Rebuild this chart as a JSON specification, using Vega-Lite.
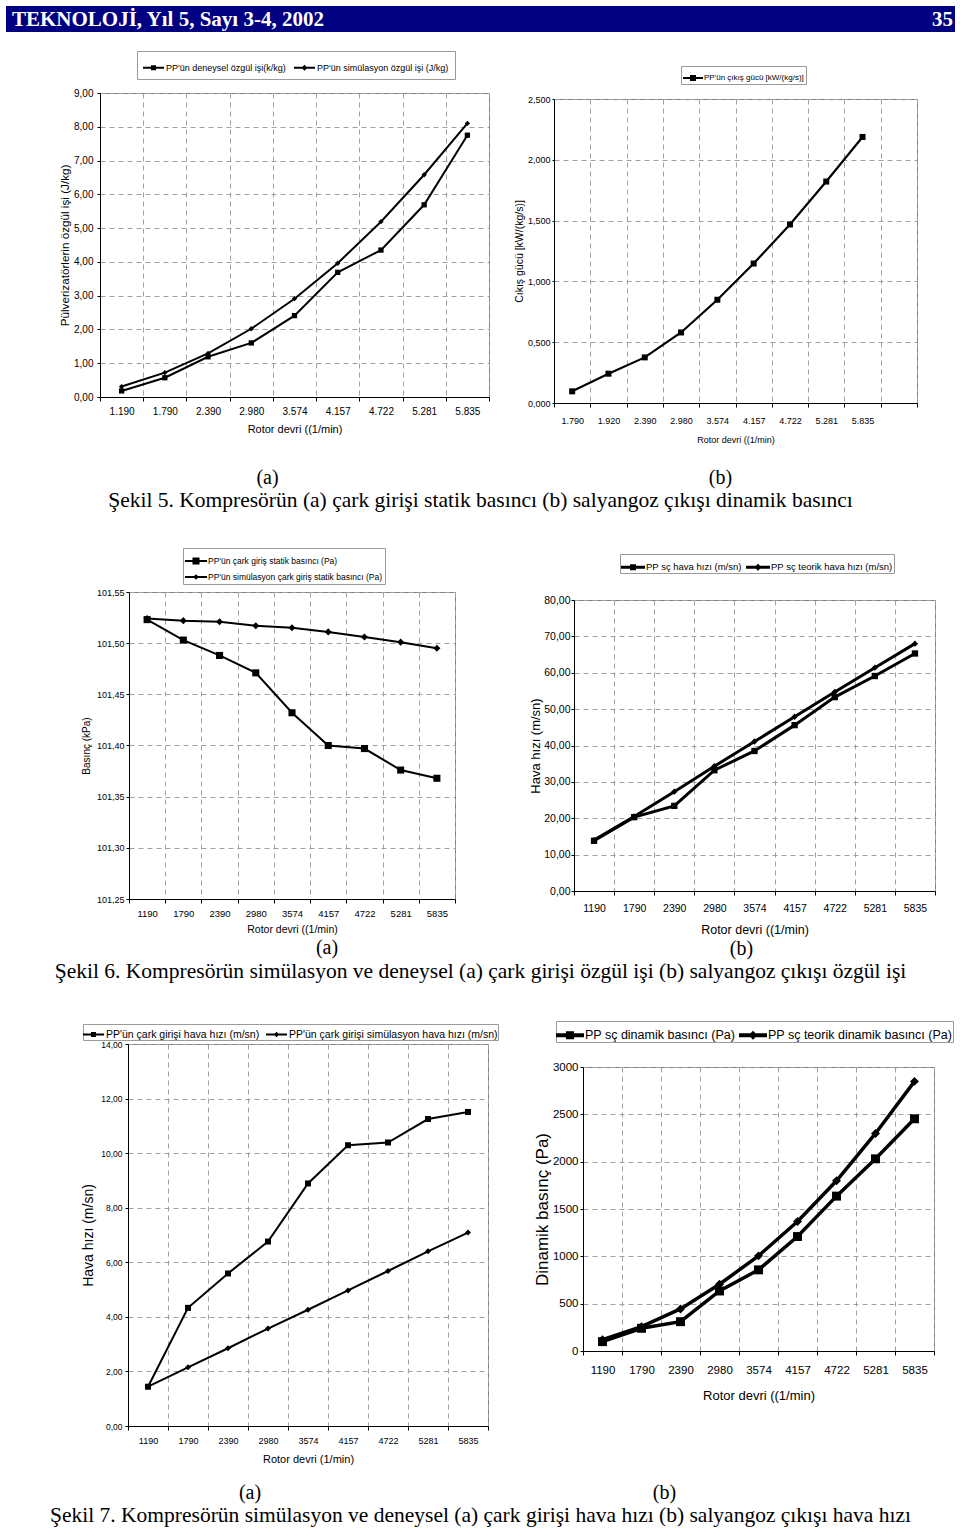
{
  "$schema": "https://vega.github.io/schema/vega-lite/v6.json",
  "padding": {"left": 6, "top": 6, "right": 0, "bottom": 0},
  "background": "white",
  "bounds": "full",
  "spacing": 0,
  "resolve": {"scale": {"shape": "independent"}, "legend": {"shape": "independent"}},
  "datasets": {
    "header": [
      {"label": "TEKNOLOJİ, Yıl 5, Sayı 3-4, 2002", "side": "left"},
      {"label": "35", "side": "right"}
    ],
    "f1a": [
      {"rpm": "1.190", "series": "PP'ün deneysel özgül işi(k/kg)", "value": 0.18},
      {"rpm": "1.790", "series": "PP'ün deneysel özgül işi(k/kg)", "value": 0.57},
      {"rpm": "2.390", "series": "PP'ün deneysel özgül işi(k/kg)", "value": 1.19},
      {"rpm": "2.980", "series": "PP'ün deneysel özgül işi(k/kg)", "value": 1.60},
      {"rpm": "3.574", "series": "PP'ün deneysel özgül işi(k/kg)", "value": 2.41},
      {"rpm": "4.157", "series": "PP'ün deneysel özgül işi(k/kg)", "value": 3.69},
      {"rpm": "4.722", "series": "PP'ün deneysel özgül işi(k/kg)", "value": 4.35},
      {"rpm": "5.281", "series": "PP'ün deneysel özgül işi(k/kg)", "value": 5.69},
      {"rpm": "5.835", "series": "PP'ün deneysel özgül işi(k/kg)", "value": 7.75},
      {"rpm": "1.190", "series": "PP'ün simülasyon özgül işi (J/kg)", "value": 0.31},
      {"rpm": "1.790", "series": "PP'ün simülasyon özgül işi (J/kg)", "value": 0.72},
      {"rpm": "2.390", "series": "PP'ün simülasyon özgül işi (J/kg)", "value": 1.29},
      {"rpm": "2.980", "series": "PP'ün simülasyon özgül işi (J/kg)", "value": 2.02},
      {"rpm": "3.574", "series": "PP'ün simülasyon özgül işi (J/kg)", "value": 2.91},
      {"rpm": "4.157", "series": "PP'ün simülasyon özgül işi (J/kg)", "value": 3.96},
      {"rpm": "4.722", "series": "PP'ün simülasyon özgül işi (J/kg)", "value": 5.19},
      {"rpm": "5.281", "series": "PP'ün simülasyon özgül işi (J/kg)", "value": 6.58},
      {"rpm": "5.835", "series": "PP'ün simülasyon özgül işi (J/kg)", "value": 8.10}
    ],
    "f1b": [
      {"rpm": "1.790", "series": "PP'ün çıkış gücü [kW/(kg/s)]", "value": 0.096},
      {"rpm": "1.920", "series": "PP'ün çıkış gücü [kW/(kg/s)]", "value": 0.241},
      {"rpm": "2.390", "series": "PP'ün çıkış gücü [kW/(kg/s)]", "value": 0.375},
      {"rpm": "2.980", "series": "PP'ün çıkış gücü [kW/(kg/s)]", "value": 0.580},
      {"rpm": "3.574", "series": "PP'ün çıkış gücü [kW/(kg/s)]", "value": 0.849},
      {"rpm": "4.157", "series": "PP'ün çıkış gücü [kW/(kg/s)]", "value": 1.147},
      {"rpm": "4.722", "series": "PP'ün çıkış gücü [kW/(kg/s)]", "value": 1.468},
      {"rpm": "5.281", "series": "PP'ün çıkış gücü [kW/(kg/s)]", "value": 1.821},
      {"rpm": "5.835", "series": "PP'ün çıkış gücü [kW/(kg/s)]", "value": 2.188}
    ],
    "f2a": [
      {"rpm": "1190", "series": "PP'ün çark giriş statik basıncı (Pa)", "value": 101.523},
      {"rpm": "1790", "series": "PP'ün çark giriş statik basıncı (Pa)", "value": 101.503},
      {"rpm": "2390", "series": "PP'ün çark giriş statik basıncı (Pa)", "value": 101.488},
      {"rpm": "2980", "series": "PP'ün çark giriş statik basıncı (Pa)", "value": 101.471},
      {"rpm": "3574", "series": "PP'ün çark giriş statik basıncı (Pa)", "value": 101.432},
      {"rpm": "4157", "series": "PP'ün çark giriş statik basıncı (Pa)", "value": 101.400},
      {"rpm": "4722", "series": "PP'ün çark giriş statik basıncı (Pa)", "value": 101.397},
      {"rpm": "5281", "series": "PP'ün çark giriş statik basıncı (Pa)", "value": 101.376},
      {"rpm": "5835", "series": "PP'ün çark giriş statik basıncı (Pa)", "value": 101.368},
      {"rpm": "1190", "series": "PP'ün simülasyon çark giriş statik basıncı (Pa)", "value": 101.524},
      {"rpm": "1790", "series": "PP'ün simülasyon çark giriş statik basıncı (Pa)", "value": 101.522},
      {"rpm": "2390", "series": "PP'ün simülasyon çark giriş statik basıncı (Pa)", "value": 101.521},
      {"rpm": "2980", "series": "PP'ün simülasyon çark giriş statik basıncı (Pa)", "value": 101.517},
      {"rpm": "3574", "series": "PP'ün simülasyon çark giriş statik basıncı (Pa)", "value": 101.515},
      {"rpm": "4157", "series": "PP'ün simülasyon çark giriş statik basıncı (Pa)", "value": 101.511},
      {"rpm": "4722", "series": "PP'ün simülasyon çark giriş statik basıncı (Pa)", "value": 101.506},
      {"rpm": "5281", "series": "PP'ün simülasyon çark giriş statik basıncı (Pa)", "value": 101.501},
      {"rpm": "5835", "series": "PP'ün simülasyon çark giriş statik basıncı (Pa)", "value": 101.495}
    ],
    "f2b": [
      {"rpm": "1190", "series": "PP sç hava hızı (m/sn)", "value": 13.8},
      {"rpm": "1790", "series": "PP sç hava hızı (m/sn)", "value": 20.3},
      {"rpm": "2390", "series": "PP sç hava hızı (m/sn)", "value": 23.4},
      {"rpm": "2980", "series": "PP sç hava hızı (m/sn)", "value": 33.2},
      {"rpm": "3574", "series": "PP sç hava hızı (m/sn)", "value": 38.5},
      {"rpm": "4157", "series": "PP sç hava hızı (m/sn)", "value": 45.6},
      {"rpm": "4722", "series": "PP sç hava hızı (m/sn)", "value": 53.3},
      {"rpm": "5281", "series": "PP sç hava hızı (m/sn)", "value": 59.1},
      {"rpm": "5835", "series": "PP sç hava hızı (m/sn)", "value": 65.3},
      {"rpm": "1190", "series": "PP sç teorik hava hızı (m/sn)", "value": 14.0},
      {"rpm": "1790", "series": "PP sç teorik hava hızı (m/sn)", "value": 20.5},
      {"rpm": "2390", "series": "PP sç teorik hava hızı (m/sn)", "value": 27.3},
      {"rpm": "2980", "series": "PP sç teorik hava hızı (m/sn)", "value": 34.3},
      {"rpm": "3574", "series": "PP sç teorik hava hızı (m/sn)", "value": 41.1},
      {"rpm": "4157", "series": "PP sç teorik hava hızı (m/sn)", "value": 47.9},
      {"rpm": "4722", "series": "PP sç teorik hava hızı (m/sn)", "value": 54.7},
      {"rpm": "5281", "series": "PP sç teorik hava hızı (m/sn)", "value": 61.4},
      {"rpm": "5835", "series": "PP sç teorik hava hızı (m/sn)", "value": 68.0}
    ],
    "f3a": [
      {"rpm": "1190", "series": "PP'ün çark girişi hava hızı (m/sn)", "value": 1.44},
      {"rpm": "1790", "series": "PP'ün çark girişi hava hızı (m/sn)", "value": 4.33},
      {"rpm": "2390", "series": "PP'ün çark girişi hava hızı (m/sn)", "value": 5.59},
      {"rpm": "2980", "series": "PP'ün çark girişi hava hızı (m/sn)", "value": 6.76},
      {"rpm": "3574", "series": "PP'ün çark girişi hava hızı (m/sn)", "value": 8.89},
      {"rpm": "4157", "series": "PP'ün çark girişi hava hızı (m/sn)", "value": 10.29},
      {"rpm": "4722", "series": "PP'ün çark girişi hava hızı (m/sn)", "value": 10.39},
      {"rpm": "5281", "series": "PP'ün çark girişi hava hızı (m/sn)", "value": 11.25},
      {"rpm": "5835", "series": "PP'ün çark girişi hava hızı (m/sn)", "value": 11.51},
      {"rpm": "1190", "series": "PP'ün çark girişi simülasyon hava hızı (m/sn)", "value": 1.44},
      {"rpm": "1790", "series": "PP'ün çark girişi simülasyon hava hızı (m/sn)", "value": 2.15},
      {"rpm": "2390", "series": "PP'ün çark girişi simülasyon hava hızı (m/sn)", "value": 2.85},
      {"rpm": "2980", "series": "PP'ün çark girişi simülasyon hava hızı (m/sn)", "value": 3.57},
      {"rpm": "3574", "series": "PP'ün çark girişi simülasyon hava hızı (m/sn)", "value": 4.26},
      {"rpm": "4157", "series": "PP'ün çark girişi simülasyon hava hızı (m/sn)", "value": 4.97},
      {"rpm": "4722", "series": "PP'ün çark girişi simülasyon hava hızı (m/sn)", "value": 5.68},
      {"rpm": "5281", "series": "PP'ün çark girişi simülasyon hava hızı (m/sn)", "value": 6.40},
      {"rpm": "5835", "series": "PP'ün çark girişi simülasyon hava hızı (m/sn)", "value": 7.09}
    ],
    "f3b": [
      {"rpm": "1190", "series": "PP sç dinamik basıncı (Pa)", "value": 99},
      {"rpm": "1790", "series": "PP sç dinamik basıncı (Pa)", "value": 240},
      {"rpm": "2390", "series": "PP sç dinamik basıncı (Pa)", "value": 310},
      {"rpm": "2980", "series": "PP sç dinamik basıncı (Pa)", "value": 634},
      {"rpm": "3574", "series": "PP sç dinamik basıncı (Pa)", "value": 857},
      {"rpm": "4157", "series": "PP sç dinamik basıncı (Pa)", "value": 1209},
      {"rpm": "4722", "series": "PP sç dinamik basıncı (Pa)", "value": 1636},
      {"rpm": "5281", "series": "PP sç dinamik basıncı (Pa)", "value": 2030},
      {"rpm": "5835", "series": "PP sç dinamik basıncı (Pa)", "value": 2453},
      {"rpm": "1190", "series": "PP sç teorik dinamik basıncı (Pa)", "value": 120},
      {"rpm": "1790", "series": "PP sç teorik dinamik basıncı (Pa)", "value": 257},
      {"rpm": "2390", "series": "PP sç teorik dinamik basıncı (Pa)", "value": 444},
      {"rpm": "2980", "series": "PP sç teorik dinamik basıncı (Pa)", "value": 705},
      {"rpm": "3574", "series": "PP sç teorik dinamik basıncı (Pa)", "value": 1005},
      {"rpm": "4157", "series": "PP sç teorik dinamik basıncı (Pa)", "value": 1368},
      {"rpm": "4722", "series": "PP sç teorik dinamik basıncı (Pa)", "value": 1798},
      {"rpm": "5281", "series": "PP sç teorik dinamik basıncı (Pa)", "value": 2298},
      {"rpm": "5835", "series": "PP sç teorik dinamik basıncı (Pa)", "value": 2848}
    ],
    "cap5": [{"caption": "Şekil 5. Kompresörün (a) çark girişi statik basıncı (b) salyangoz çıkışı dinamik basıncı"}],
    "cap6": [{"caption": "Şekil 6. Kompresörün simülasyon ve deneysel (a) çark girişi özgül işi (b) salyangoz çıkışı özgül işi"}],
    "cap7": [{"caption": "Şekil 7. Kompresörün simülasyon ve deneysel (a) çark girişi hava hızı (b) salyangoz çıkışı hava hızı"}]
  },
  "vconcat": [
    {
      "width": 949, "height": 26,
      "view": {"fill": "#000080", "stroke": null},
      "data": {"name": "header"},
      "encoding": {
        "x": {"field": "side", "type": "nominal", "scale": {"type": "point", "domain": ["left", "right"], "padding": 0}, "axis": null},
        "text": {"field": "label", "type": "nominal"}
      },
      "layer": [
        {"transform": [{"filter": "datum.side === 'left'"}], "mark": {"type": "text", "align": "left", "dx": 6, "dy": 1, "color": "white", "font": "Liberation Serif", "fontSize": 21, "fontWeight": "bold"}},
        {"transform": [{"filter": "datum.side === 'right'"}], "mark": {"type": "text", "align": "right", "dx": -2, "dy": 1, "color": "white", "font": "Liberation Serif", "fontSize": 21, "fontWeight": "bold"}}
      ]
    },
    {
      "hconcat": [
        {"width": 94, "height": 458, "data": {"values": []}, "mark": {"type": "point", "opacity": 0}, "view": {"stroke": null}},
        {
          "vconcat": [
            {"width": 1, "height": 61, "data": {"values": []}, "mark": {"type": "point", "opacity": 0}, "view": {"stroke": null}},
            {
              "width": 389, "height": 304,
              "title": {"text": "(a)", "orient": "bottom", "anchor": "middle", "dx": -27, "offset": 34},
              "data": {"name": "f1a"},
              "encoding": {
                "x": {"field": "rpm", "type": "nominal", "bandPosition": 0.5,
                  "scale": {"type": "band", "domain": ["1.190", "1.790", "2.390", "2.980", "3.574", "4.157", "4.722", "5.281", "5.835"], "paddingInner": 0, "paddingOuter": 0},
                  "axis": {"title": "Rotor devri ((1/min)", "tickBand": "extent", "labelAngle": 0, "labelFontSize": 10, "titleFontSize": 11, "tickSize": 4, "labelPadding": 5, "titlePadding": 7, "grid": true}},
                "y": {"field": "value", "type": "quantitative",
                  "scale": {"domain": [0, 9], "nice": false},
                  "axis": {"title": "Pülverizatörlerin özgül işi (J/kg)", "values": [0, 1, 2, 3, 4, 5, 6, 7, 8, 9], "format": ".2f", "labelFontSize": 10, "titleFontSize": 11.7, "tickSize": 3, "labelPadding": 4, "titlePadding": 3, "grid": true}}
              },
              "layer": [
                {"mark": {"type": "line", "color": "black", "strokeWidth": 2}, "encoding": {"detail": {"field": "series", "type": "nominal"}}},
                {"mark": {"type": "point", "filled": true, "color": "black", "size": 28, "opacity": 1},
                  "encoding": {"shape": {"field": "series", "type": "nominal", "scale": {"domain": ["PP'ün deneysel özgül işi(k/kg)", "PP'ün simülasyon özgül işi (J/kg)"], "range": ["square", "diamond"]}, "legend": null}}},
                {"mark": {"type": "point", "filled": true, "color": "black", "opacity": 0},
                  "encoding": {"shape": {"field": "series", "type": "nominal",
                    "scale": {"domain": ["PP'ün deneysel özgül işi(k/kg)", "PP'ün simülasyon özgül işi (J/kg)"], "range": ["M-1,-0.1H1V0.1H-1Z M-0.24,-0.24H0.24V0.24H-0.24Z", "M-1,-0.1H1V0.1H-1Z M0,-0.28L0.28,0L0,0.28L-0.28,0Z"]},
                    "legend": {"title": null, "orient": "none", "legendX": 37, "legendY": -42, "direction": "horizontal", "strokeColor": "#9a9a9a", "fillColor": "white", "padding": 6, "symbolSize": 441, "symbolOpacity": 1, "symbolStrokeWidth": 0, "symbolFillColor": "black", "labelFontSize": 9, "labelOffset": 2, "columnPadding": 8}}}}
              ],
              "resolve": {"scale": {"shape": "independent"}, "legend": {"shape": "independent"}}
            }
          ],
          "spacing": 0, "bounds": "flush"
        },
        {"width": 454, "height": 1, "data": {"values": []}, "mark": {"type": "point", "opacity": 0}, "view": {"stroke": null}},
        {
          "vconcat": [
            {"width": 1, "height": 67, "data": {"values": []}, "mark": {"type": "point", "opacity": 0}, "view": {"stroke": null}},
            {
              "width": 363, "height": 304,
              "title": {"text": "(b)", "orient": "bottom", "anchor": "middle", "dx": -15, "offset": 24},
              "data": {"name": "f1b"},
              "encoding": {
                "x": {"field": "rpm", "type": "nominal", "bandPosition": 0.5,
                  "scale": {"type": "band", "domain": ["1.790", "1.920", "2.390", "2.980", "3.574", "4.157", "4.722", "5.281", "5.835", " "], "paddingInner": 0, "paddingOuter": 0},
                  "axis": {"title": "Rotor devri ((1/min)", "tickBand": "extent", "labelAngle": 0, "labelFontSize": 9, "titleFontSize": 9, "tickSize": 4, "labelPadding": 9, "titlePadding": 10, "grid": true}},
                "y": {"field": "value", "type": "quantitative",
                  "scale": {"domain": [0, 2.5], "nice": false},
                  "axis": {"title": "Cıkış gücü [kW/(kg/s)]", "values": [0, 0.5, 1, 1.5, 2, 2.5], "format": ".3f", "labelFontSize": 9, "titleFontSize": 10.5, "tickSize": 2, "labelPadding": 2, "titlePadding": 3, "grid": true}}
              },
              "layer": [
                {"mark": {"type": "line", "color": "black", "strokeWidth": 2.2}, "encoding": {"detail": {"field": "series", "type": "nominal"}}},
                {"mark": {"type": "point", "filled": true, "color": "black", "size": 36, "opacity": 1, "shape": "square"}},
                {"mark": {"type": "point", "filled": true, "color": "black", "opacity": 0},
                  "encoding": {"shape": {"field": "series", "type": "nominal",
                    "scale": {"domain": ["PP'ün çıkış gücü [kW/(kg/s)]"], "range": ["M-1,-0.1H1V0.1H-1Z M-0.3,-0.3H0.3V0.3H-0.3Z"]},
                    "legend": {"title": null, "orient": "none", "legendX": 127, "legendY": -33, "direction": "horizontal", "strokeColor": "#9a9a9a", "fillColor": "white", "padding": 2, "symbolSize": 400, "symbolOpacity": 1, "symbolStrokeWidth": 0, "symbolFillColor": "black", "labelFontSize": 8, "labelOffset": 1}}}}
              ],
              "resolve": {"scale": {"shape": "independent"}, "legend": {"shape": "independent"}}
            }
          ],
          "spacing": 0, "bounds": "flush"
        }
      ],
      "spacing": 0, "bounds": "flush",
      "resolve": {"scale": {"shape": "independent"}, "legend": {"shape": "independent"}}
    },
    {
      "width": 949, "height": 22,
      "view": {"stroke": null},
      "data": {"name": "cap5"},
      "mark": {"type": "text", "font": "Liberation Serif", "fontSize": 21.5, "color": "black"},
      "encoding": {"text": {"field": "caption", "type": "nominal"}}
    },
    {
      "hconcat": [
        {"width": 123, "height": 448, "data": {"values": []}, "mark": {"type": "point", "opacity": 0}, "view": {"stroke": null}},
        {
          "vconcat": [
            {"width": 1, "height": 80, "data": {"values": []}, "mark": {"type": "point", "opacity": 0}, "view": {"stroke": null}},
            {
              "width": 326, "height": 307,
              "title": {"text": "(a)", "orient": "bottom", "anchor": "middle", "dx": 35, "offset": 3},
              "data": {"name": "f2a"},
              "encoding": {
                "x": {"field": "rpm", "type": "nominal", "bandPosition": 0.5,
                  "scale": {"type": "band", "domain": ["1190", "1790", "2390", "2980", "3574", "4157", "4722", "5281", "5835"], "paddingInner": 0, "paddingOuter": 0},
                  "axis": {"title": "Rotor devri ((1/min)", "tickBand": "extent", "labelAngle": 0, "labelFontSize": 9.5, "titleFontSize": 10.5, "tickSize": 4, "labelPadding": 5, "titlePadding": 7, "grid": true}},
                "y": {"field": "value", "type": "quantitative",
                  "scale": {"domain": [101.25, 101.55], "nice": false, "zero": false},
                  "axis": {"title": "Basınç (kPa)", "values": [101.25, 101.3, 101.35, 101.4, 101.45, 101.5, 101.55], "format": ".2f", "labelFontSize": 9, "titleFontSize": 10, "tickSize": 3, "labelPadding": 2, "titlePadding": 5, "grid": true}}
              },
              "layer": [
                {"mark": {"type": "line", "color": "black", "strokeWidth": 2}, "encoding": {"detail": {"field": "series", "type": "nominal"}}},
                {"mark": {"type": "point", "filled": true, "color": "black", "size": 50, "opacity": 1},
                  "encoding": {"shape": {"field": "series", "type": "nominal", "scale": {"domain": ["PP'ün çark giriş statik basıncı (Pa)", "PP'ün simülasyon çark giriş statik basıncı (Pa)"], "range": ["square", "diamond"]}, "legend": null}}},
                {"mark": {"type": "point", "filled": true, "color": "black", "opacity": 0},
                  "encoding": {"shape": {"field": "series", "type": "nominal",
                    "scale": {"domain": ["PP'ün çark giriş statik basıncı (Pa)", "PP'ün simülasyon çark giriş statik basıncı (Pa)"], "range": ["M-1,-0.09H1V0.09H-1Z M-0.32,-0.32H0.32V0.32H-0.32Z", "M-1,-0.09H1V0.09H-1Z M0,-0.26L0.26,0L0,0.26L-0.26,0Z"]},
                    "legend": {"title": null, "orient": "none", "legendX": 54, "legendY": -44, "direction": "vertical", "strokeColor": "#9a9a9a", "fillColor": "white", "padding": 2, "rowPadding": -4, "symbolSize": 484, "symbolOpacity": 1, "symbolStrokeWidth": 0, "symbolFillColor": "black", "labelFontSize": 8.5, "labelOffset": 1}}}}
              ],
              "resolve": {"scale": {"shape": "independent"}, "legend": {"shape": "independent"}}
            }
          ],
          "spacing": 0, "bounds": "flush"
        },
        {"width": 445, "height": 1, "data": {"values": []}, "mark": {"type": "point", "opacity": 0}, "view": {"stroke": null}},
        {
          "vconcat": [
            {"width": 1, "height": 88, "data": {"values": []}, "mark": {"type": "point", "opacity": 0}, "view": {"stroke": null}},
            {
              "width": 361, "height": 291,
              "title": {"text": "(b)", "orient": "bottom", "anchor": "middle", "dx": -13, "offset": 3},
              "data": {"name": "f2b"},
              "encoding": {
                "x": {"field": "rpm", "type": "nominal", "bandPosition": 0.5,
                  "scale": {"type": "band", "domain": ["1190", "1790", "2390", "2980", "3574", "4157", "4722", "5281", "5835"], "paddingInner": 0, "paddingOuter": 0},
                  "axis": {"title": "Rotor devri ((1/min)", "tickBand": "extent", "labelAngle": 0, "labelFontSize": 10.5, "titleFontSize": 12.5, "tickSize": 4, "labelPadding": 8, "titlePadding": 10, "grid": true}},
                "y": {"field": "value", "type": "quantitative",
                  "scale": {"domain": [0, 80], "nice": false},
                  "axis": {"title": "Hava hızı (m/sn)", "values": [0, 10, 20, 30, 40, 50, 60, 70, 80], "format": ".2f", "labelFontSize": 10.5, "titleFontSize": 13, "tickSize": 3, "labelPadding": 1, "titlePadding": 1, "grid": true}}
              },
              "layer": [
                {"mark": {"type": "line", "color": "black", "strokeWidth": 3}, "encoding": {"detail": {"field": "series", "type": "nominal"}}},
                {"mark": {"type": "point", "filled": true, "color": "black", "size": 40, "opacity": 1},
                  "encoding": {"shape": {"field": "series", "type": "nominal", "scale": {"domain": ["PP sç hava hızı (m/sn)", "PP sç teorik hava hızı (m/sn)"], "range": ["square", "diamond"]}, "legend": null}}},
                {"mark": {"type": "point", "filled": true, "color": "black", "opacity": 0},
                  "encoding": {"shape": {"field": "series", "type": "nominal",
                    "scale": {"domain": ["PP sç hava hızı (m/sn)", "PP sç teorik hava hızı (m/sn)"], "range": ["M-1,-0.125H1V0.125H-1Z M-0.25,-0.25H0.25V0.25H-0.25Z", "M-1,-0.125H1V0.125H-1Z M0,-0.3L0.3,0L0,0.3L-0.3,0Z"]},
                    "legend": {"title": null, "orient": "none", "legendX": 46, "legendY": -46, "direction": "horizontal", "strokeColor": "#9a9a9a", "fillColor": "white", "padding": 1, "symbolSize": 576, "symbolOpacity": 1, "symbolStrokeWidth": 0, "symbolFillColor": "black", "labelFontSize": 9.5, "labelOffset": 1, "columnPadding": 4}}}}
              ],
              "resolve": {"scale": {"shape": "independent"}, "legend": {"shape": "independent"}}
            }
          ],
          "spacing": 0, "bounds": "flush"
        }
      ],
      "spacing": 0, "bounds": "flush",
      "resolve": {"scale": {"shape": "independent"}, "legend": {"shape": "independent"}}
    },
    {
      "width": 949, "height": 23,
      "view": {"stroke": null},
      "data": {"name": "cap6"},
      "mark": {"type": "text", "font": "Liberation Serif", "fontSize": 21.5, "color": "black"},
      "encoding": {"text": {"field": "caption", "type": "nominal"}}
    },
    {
      "hconcat": [
        {"width": 122, "height": 521, "data": {"values": []}, "mark": {"type": "point", "opacity": 0}, "view": {"stroke": null}},
        {
          "vconcat": [
            {"width": 1, "height": 61, "data": {"values": []}, "mark": {"type": "point", "opacity": 0}, "view": {"stroke": null}},
            {
              "width": 360, "height": 382,
              "title": {"text": "(a)", "orient": "bottom", "anchor": "middle", "dx": -58, "offset": 19},
              "data": {"name": "f3a"},
              "encoding": {
                "x": {"field": "rpm", "type": "nominal", "bandPosition": 0.5,
                  "scale": {"type": "band", "domain": ["1190", "1790", "2390", "2980", "3574", "4157", "4722", "5281", "5835"], "paddingInner": 0, "paddingOuter": 0},
                  "axis": {"title": "Rotor devri (1/min)", "tickBand": "extent", "labelAngle": 0, "labelFontSize": 9, "titleFontSize": 11, "tickSize": 4, "labelPadding": 6, "titlePadding": 8, "grid": true}},
                "y": {"field": "value", "type": "quantitative",
                  "scale": {"domain": [0, 14], "nice": false},
                  "axis": {"title": "Hava hızı (m/sn)", "values": [0, 2, 4, 6, 8, 10, 12, 14], "format": ".2f", "labelFontSize": 8.5, "titleFontSize": 14, "tickSize": 3, "labelPadding": 3, "titlePadding": 5, "grid": true}}
              },
              "layer": [
                {"mark": {"type": "line", "color": "black", "strokeWidth": 2}, "encoding": {"detail": {"field": "series", "type": "nominal"}}},
                {"mark": {"type": "point", "filled": true, "color": "black", "size": 36, "opacity": 1},
                  "encoding": {"shape": {"field": "series", "type": "nominal", "scale": {"domain": ["PP'ün çark girişi hava hızı (m/sn)", "PP'ün çark girişi simülasyon hava hızı (m/sn)"], "range": ["square", "diamond"]}, "legend": null}}},
                {"mark": {"type": "point", "filled": true, "color": "black", "opacity": 0},
                  "encoding": {"shape": {"field": "series", "type": "nominal",
                    "scale": {"domain": ["PP'ün çark girişi hava hızı (m/sn)", "PP'ün çark girişi simülasyon hava hızı (m/sn)"], "range": ["M-1,-0.1H1V0.1H-1Z M-0.24,-0.24H0.24V0.24H-0.24Z", "M-1,-0.1H1V0.1H-1Z M0,-0.26L0.26,0L0,0.26L-0.26,0Z"]},
                    "legend": {"title": null, "orient": "none", "legendX": -45, "legendY": -20, "direction": "horizontal", "strokeColor": "#9a9a9a", "fillColor": "white", "padding": 0, "symbolSize": 441, "symbolOpacity": 1, "symbolStrokeWidth": 0, "symbolFillColor": "black", "labelFontSize": 10.5, "labelOffset": 2, "columnPadding": 6}}}}
              ],
              "resolve": {"scale": {"shape": "independent"}, "legend": {"shape": "independent"}}
            }
          ],
          "spacing": 0, "bounds": "flush"
        },
        {"width": 455, "height": 1, "data": {"values": []}, "mark": {"type": "point", "opacity": 0}, "view": {"stroke": null}},
        {
          "vconcat": [
            {"width": 1, "height": 84, "data": {"values": []}, "mark": {"type": "point", "opacity": 0}, "view": {"stroke": null}},
            {
              "width": 351, "height": 284,
              "title": {"text": "(b)", "orient": "bottom", "anchor": "middle", "dx": -94, "offset": 80},
              "data": {"name": "f3b"},
              "encoding": {
                "x": {"field": "rpm", "type": "nominal", "bandPosition": 0.5,
                  "scale": {"type": "band", "domain": ["1190", "1790", "2390", "2980", "3574", "4157", "4722", "5281", "5835"], "paddingInner": 0, "paddingOuter": 0},
                  "axis": {"title": "Rotor devri ((1/min)", "tickBand": "extent", "labelAngle": 0, "labelFontSize": 11.5, "titleFontSize": 13, "tickSize": 4, "labelPadding": 9, "titlePadding": 14, "grid": true}},
                "y": {"field": "value", "type": "quantitative",
                  "scale": {"domain": [0, 3000], "nice": false},
                  "axis": {"title": "Dinamik basınç (Pa)", "values": [0, 500, 1000, 1500, 2000, 2500, 3000], "format": "d", "labelFontSize": 11.5, "titleFontSize": 17, "tickSize": 3, "labelPadding": 2, "titlePadding": 1, "grid": true}}
              },
              "layer": [
                {"mark": {"type": "line", "color": "black", "strokeWidth": 3.5}, "encoding": {"detail": {"field": "series", "type": "nominal"}}},
                {"mark": {"type": "point", "filled": true, "color": "black", "size": 80, "opacity": 1},
                  "encoding": {"shape": {"field": "series", "type": "nominal", "scale": {"domain": ["PP sç dinamik basıncı (Pa)", "PP sç teorik dinamik basıncı (Pa)"], "range": ["square", "diamond"]}, "legend": null}}},
                {"mark": {"type": "point", "filled": true, "color": "black", "opacity": 0},
                  "encoding": {"shape": {"field": "series", "type": "nominal",
                    "scale": {"domain": ["PP sç dinamik basıncı (Pa)", "PP sç teorik dinamik basıncı (Pa)"], "range": ["M-1,-0.14H1V0.14H-1Z M-0.29,-0.29H0.29V0.29H-0.29Z", "M-1,-0.14H1V0.14H-1Z M0,-0.32L0.32,0L0,0.32L-0.32,0Z"]},
                    "legend": {"title": null, "orient": "none", "legendX": -27, "legendY": -46, "direction": "horizontal", "strokeColor": "#9a9a9a", "fillColor": "white", "padding": 0, "symbolSize": 784, "symbolOpacity": 1, "symbolStrokeWidth": 0, "symbolFillColor": "black", "labelFontSize": 12.5, "labelOffset": 1, "columnPadding": 3, "labelLimit": 300}}}}
              ],
              "resolve": {"scale": {"shape": "independent"}, "legend": {"shape": "independent"}}
            }
          ],
          "spacing": 0, "bounds": "flush"
        }
      ],
      "spacing": 0, "bounds": "flush",
      "resolve": {"scale": {"shape": "independent"}, "legend": {"shape": "independent"}}
    },
    {
      "width": 949, "height": 24,
      "view": {"stroke": null},
      "data": {"name": "cap7"},
      "mark": {"type": "text", "font": "Liberation Serif", "fontSize": 21.5, "color": "black"},
      "encoding": {"text": {"field": "caption", "type": "nominal"}}
    }
  ],
  "config": {
    "locale": {"number": {"decimal": ",", "thousands": ".", "grouping": [3], "currency": ["", ""]}},
    "font": "Liberation Sans",
    "view": {"stroke": "#808080", "strokeWidth": 1},
    "axis": {"labelColor": "black", "titleColor": "black", "domainColor": "black", "tickColor": "black", "gridColor": "#a0a0a0", "gridDash": [5, 4], "gridWidth": 1, "titleFontWeight": "normal", "labelFont": "Liberation Sans", "titleFont": "Liberation Sans", "labelOverlap": false},
    "legend": {"labelColor": "black", "labelFont": "Liberation Sans", "labelLimit": 260},
    "title": {"font": "Liberation Serif", "fontSize": 20, "fontWeight": "normal", "color": "black"}
  }
}
